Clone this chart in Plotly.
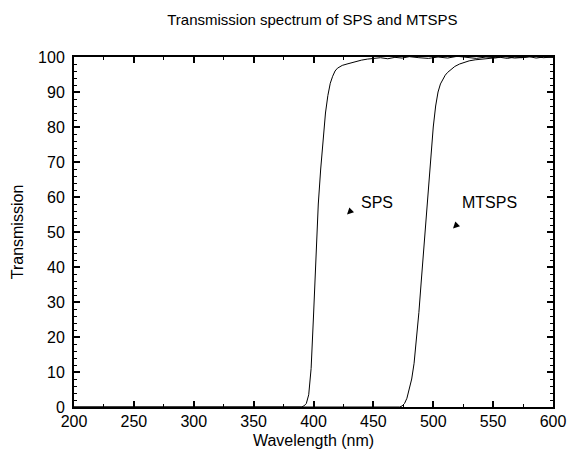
import plotly.graph_objects as go

# --- data ---
sps_wl = [200, 390, 392, 394, 396, 397, 398, 400, 402, 404, 406, 408, 410, 412, 414, 416,
          418, 420, 424, 428, 432, 436, 440, 445, 450, 456, 462, 468, 474, 480, 488, 496,
          504, 512, 520, 528, 536, 544, 552, 560, 568, 576, 584, 592, 600]
sps_t = [0, 0, 0.3, 1, 3.5, 7, 11, 26, 45, 58, 68, 77, 84, 89, 92.5, 94.5,
         96, 96.8, 97.6, 98, 98.4, 98.8, 99.1, 99.4, 99.6, 99.8, 99.5, 99.9, 99.7, 100.1, 99.8, 99.6,
         100, 99.7, 100.2, 99.9, 99.6, 100, 99.8, 100.1, 99.7, 99.9, 100.2, 99.8, 100]

mtsps_wl = [200, 472, 474, 476, 478, 480, 482, 484, 486, 488, 490, 492, 494, 496, 498, 500,
            502, 504, 506, 508, 510, 512, 515, 518, 522, 526, 530, 535, 540, 545, 550, 556,
            562, 568, 574, 580, 586, 592, 600]
mtsps_t = [0, 0, 0.3, 1, 2.5, 5, 8, 12.5, 19, 27, 36, 45, 54, 63, 72, 80,
           86, 90, 92.3, 93.8, 94.8, 95.6, 96.5, 97.3, 98, 98.5, 98.9, 99.2, 99.4, 99.5, 99.7, 99.9,
           99.6, 100, 99.8, 100.1, 99.7, 100, 99.9]

labels = ["SPS", "MTSPS"]
label_x = [453, 547]
label_y = [58.5, 58.5]
arrow_x = [428, 516.5]
arrow_y = [55, 51]

FONT = "Liberation Sans, Arial, sans-serif"

fig = go.Figure()
fig.add_trace(go.Scatter(x=sps_wl, y=sps_t, mode="lines",
                         line=dict(color="black", width=1), showlegend=False))
fig.add_trace(go.Scatter(x=mtsps_wl, y=mtsps_t, mode="lines",
                         line=dict(color="black", width=1), showlegend=False))

for name, tx, ty, axx, ayy in zip(labels, label_x, label_y, arrow_x, arrow_y):
    fig.add_annotation(x=tx, y=ty, text=name, showarrow=False,
                       font=dict(family=FONT, size=16, color="black"))
    fig.add_annotation(x=axx, y=ayy, text="", showarrow=True, arrowhead=2,
                       arrowsize=1.1, arrowwidth=1.2, arrowcolor="black", ax=3, ay=-3)

axis_common = dict(
    showline=True, linecolor="black", linewidth=2, mirror="allticks",
    ticks="inside", ticklen=6, tickwidth=1.5, tickcolor="black",
    showgrid=False, zeroline=False, automargin=False,
    tickfont=dict(family=FONT, size=16, color="black"),
)

fig.update_xaxes(range=[200, 600], dtick=50, tick0=200, ticklabelstandoff=-1,
                 minor=dict(dtick=25, ticklen=3, tickwidth=1.2, tickcolor="black", ticks="inside"),
                 title=dict(text="Wavelength (nm)", font=dict(family=FONT, size=16, color="black"),
                            standoff=6),
                 **axis_common)
fig.update_yaxes(range=[0, 100], dtick=10, tick0=0, ticklabelstandoff=4,
                 minor=dict(dtick=2, ticklen=3, tickwidth=1.2, tickcolor="black", ticks="inside"),
                 title=dict(text="Transmission", font=dict(family=FONT, size=16, color="black"),
                            standoff=10),
                 **axis_common)

fig.update_layout(
    width=568, height=461,
    margin=dict(l=74, r=15, t=57, b=54),
    paper_bgcolor="white", plot_bgcolor="white",
    title=dict(text="Transmission spectrum of SPS and MTSPS", x=0.55, xanchor="center",
               y=0.957, yanchor="middle",
               font=dict(family=FONT, size=15, color="black")),
)

fig.write_html("out.html", config={"displayModeBar": False},
               post_script="document.body.style.margin='0';document.body.style.overflow='hidden';")
